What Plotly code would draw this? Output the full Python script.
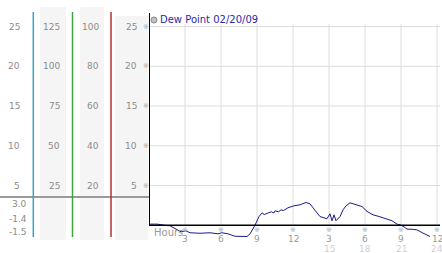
import plotly.graph_objects as go

W, H = 442, 253

# ---- data ----
hours = [0, 0.67, 1.33, 1.75, 2.25, 2.67, 3.08, 3.42, 4.25, 5.08, 5.75, 6.08, 6.58, 7.17,
         8.17, 8.42, 8.83, 9.17, 9.42, 9.6, 9.92, 10.2, 10.4, 10.5, 10.8, 11.0, 11.2, 11.58,
         12.08, 12.58, 13.08, 13.42, 13.67, 14.25, 14.83, 15.08, 15.25, 15.42, 15.58, 15.92,
         16.17, 16.42, 16.75, 17.33, 17.75, 18.17, 18.67, 19.25, 19.83, 20.25, 20.67, 20.92,
         21.25, 21.5, 21.92, 22.33, 22.83, 23.17, 23.42]
dew = [0.15, 0.15, 0.0, -0.06, -0.48, -0.82, -0.7, -0.94, -1.0, -0.94, -1.07, -0.94, -1.07, -1.38,
       -1.41, -1.07, 0.0, 1.1, 1.57, 1.35, 1.55, 1.7, 1.55, 1.82, 1.7, 1.95, 1.85, 2.2,
       2.45, 2.58, 2.87, 2.7, 2.2, 1.1, 0.82, 1.45, 0.57, 1.32, 0.57, 1.1,
       1.95, 2.45, 2.83, 2.58, 2.36, 1.74, 1.32, 1.07, 0.82, 0.57, 0.15, 0.06,
       -0.19, -0.48, -0.5, -0.57, -0.98, -1.19, -1.41]

col1_labels = ["25", "20", "15", "10", "5"]
col2_labels = ["125", "100", "75", "50", "25"]
col3_labels = ["100", "80", "60", "40", "20"]
col4_labels = ["25", "20", "15", "10", "5"]
y_ticks = [25, 20, 15, 10, 5]
summary_labels = ["3.0", "-1.4", "-1.5"]
x_ticks = [3, 6, 9, 12, 15, 18, 21, 24]
x_labels_top = ["3", "6", "9", "12", "3", "6", "9", "12"]
x_labels_bottom = ["", "", "", "", "15", "18", "21", "24"]
legend_text = "Dew Point 02/20/09"

# ---- geometry (pixels) ----
PX0, PX1 = 149, 440
XR = [0, (PX1 - PX0) / 12.0]
PY_TOP, PY_ZERO, PPU = 13, 225.3, 7.95
YR = [-2.0, (PY_ZERO - PY_TOP) / PPU]
PY_BOT = PY_ZERO - YR[0] * PPU


def px(x):
    return x / W


def py(y):
    return 1 - y / H


def ypix(v):
    return PY_ZERO - v * PPU


FONT = "DejaVu Sans"
GRAY = "#8c8c8c"

fig = go.Figure()
fig.add_trace(go.Scatter(x=hours, y=dew, mode="lines",
                         line=dict(color="#1a1a88", width=1), showlegend=False,
                         hoverinfo="skip"))

shapes = []
ann = []

# left panel bands
for x0, x1, y0 in [(40, 66, 7), (80, 104, 7), (115, 148, 16)]:
    shapes.append(dict(type="rect", xref="paper", yref="paper", x0=px(x0), x1=px(x1),
                       y0=py(240), y1=py(y0), fillcolor="#f5f5f5", line_width=0, layer="below"))
# gray separator
shapes.append(dict(type="line", xref="paper", yref="paper", x0=0, x1=px(PX0), y0=py(197), y1=py(197),
                   line=dict(color="#9a9a9a", width=2)))
# colored vertical lines
for xx, c in [(33.3, "#35a3c8"), (72.5, "#3aa63a"), (111, "#b03030")]:
    shapes.append(dict(type="line", xref="paper", yref="paper", x0=px(xx), x1=px(xx),
                       y0=py(237), y1=py(12), line=dict(color=c, width=1.5)))

# main gridlines
for v in y_ticks:
    shapes.append(dict(type="line", xref="x", yref="y", x0=0, x1=XR[1], y0=v, y1=v,
                       line=dict(color="#dcdcdc", width=1), layer="below"))
for h in x_ticks:
    shapes.append(dict(type="line", xref="x", yref="y", x0=h, x1=h, y0=0, y1=25.3,
                       line=dict(color="#dcdcdc", width=1), layer="below"))
# axes
shapes.append(dict(type="line", xref="x", yref="y", x0=0, x1=XR[1], y0=0, y1=0,
                   line=dict(color="black", width=1.5)))
shapes.append(dict(type="line", xref="x", yref="y", x0=0, x1=0, y0=0, y1=YR[1],
                   line=dict(color="black", width=2)))
# legend marker
shapes.append(dict(type="circle", xref="paper", yref="paper", x0=px(151), x1=px(157),
                   y0=py(23), y1=py(17), fillcolor="#c0c0c0", line=dict(color="#8a8a8a", width=1)))


def label(x, y, text, anchor="right", color=GRAY, size=9, xref="paper", pad=1):
    ann.append(dict(x=x, y=y, xref=xref, yref="paper", text=text, showarrow=False,
                    xanchor=anchor, yanchor="middle", borderpad=pad,
                    font=dict(family=FONT, size=size, color=color)))


for i, v in enumerate(y_ticks):
    yy = py(ypix(v))
    label(px(22), yy, col1_labels[i])
    label(px(62), yy, col2_labels[i])
    label(px(101), yy, col3_labels[i])
    label(px(139), yy, col4_labels[i])
    label(px(146), yy, "※", anchor="center", color="#aaaaaa", size=7)

for s, yy in zip(summary_labels, [204, 218.5, 232]):
    label(px(29), py(yy), s)

for h, t, b in zip(x_ticks, x_labels_top, x_labels_bottom):
    label(h, py(230), "※", anchor="center", color="#aaaaaa", size=7, xref="x", pad=0)
    label(h, py(239), t, anchor="center", color="#999999", size=9, xref="x", pad=0)
    if b:
        label(h, py(248.5), b, anchor="center", color="#d0d0d0", size=9, xref="x", pad=0)

label(px(152), py(232), "Hours", anchor="left", color="#999999", size=10)
label(px(158), py(20), legend_text, anchor="left", color="#2a2aa8", size=10)

fig.update_layout(
    width=W, height=H, margin=dict(l=0, r=0, t=0, b=0),
    paper_bgcolor="white", plot_bgcolor="rgba(0,0,0,0)",
    xaxis=dict(domain=[px(PX0), px(PX1)], range=XR, visible=False, fixedrange=True),
    yaxis=dict(domain=[py(PY_BOT), py(PY_TOP)], range=YR, visible=False, fixedrange=True),
    shapes=shapes, annotations=ann, showlegend=False,
)
fig.write_html("out.html", config={"displayModeBar": False})
